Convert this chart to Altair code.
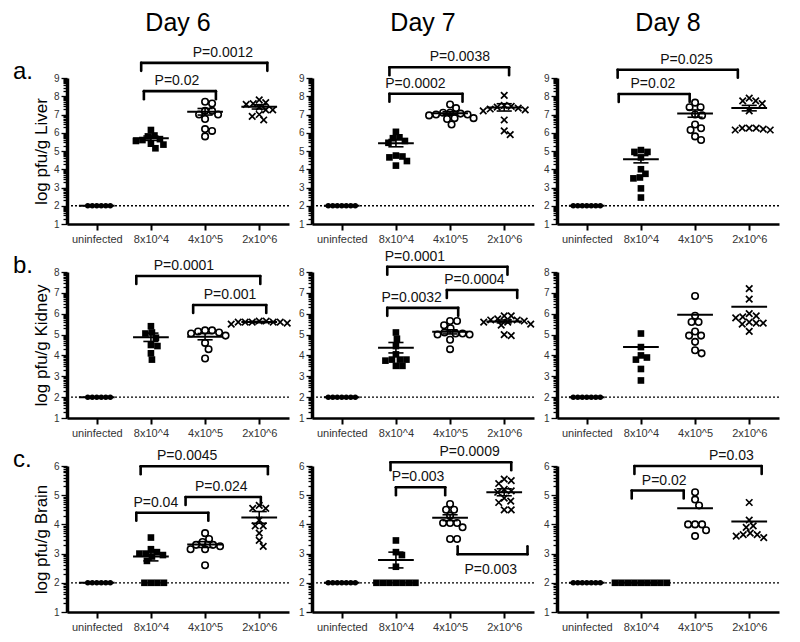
import math
import altair as alt
import pandas as pd

GROUPS = ["uninfected", "8x10^4", "4x10^5", "2x10^6"]
DAYS = ["Day 6", "Day 7", "Day 8"]
ORGANS = ["Liver", "Kidney", "Brain"]
ROW_LETTERS = ["a.", "b.", "c."]
Y_MAX = {"Liver": 9, "Kidney": 8, "Brain": 6}
Y_MIN = 1
LOD = 2

# ---- individual animals (log pfu/g), per group: uninfected, 8x10^4, 4x10^5, 2x10^6
liver_d6 = [[2] * 6,
            [6.15, 5.85, 5.8, 5.65, 5.6, 5.55, 5.4, 5.35, 5.15],
            [7.7, 7.6, 7.2, 7.2, 7.0, 7.0, 6.75, 6.2, 6.1, 5.8],
            [7.8, 7.65, 7.6, 7.55, 7.4, 7.25, 7.25, 7.0, 6.9, 6.7]]
liver_d7 = [[2] * 7,
            [6.05, 5.75, 5.7, 5.55, 5.45, 4.75, 4.7, 4.65, 4.45, 4.2],
            [7.55, 7.35, 7.1, 7.1, 7.05, 7.0, 7.0, 6.95, 6.8, 6.8, 6.75, 6.45],
            [8.05, 7.5, 7.45, 7.4, 7.35, 7.3, 7.25, 7.2, 6.7, 6.1, 5.9]]
liver_d8 = [[2] * 7,
            [5.05, 4.95, 4.95, 4.65, 4.0, 3.75, 3.55, 3.5, 2.95, 2.45],
            [7.65, 7.4, 7.4, 7.0, 6.95, 6.45, 6.25, 6.15, 5.8, 5.6],
            [7.9, 7.75, 7.75, 7.6, 7.2, 6.25, 6.25, 6.25, 6.15, 6.15, 6.2]]
kidney_d6 = [[2] * 6,
             [5.4, 5.1, 5.05, 4.85, 4.5, 4.45, 4.1, 3.8],
             [5.2, 5.2, 5.15, 5.1, 5.05, 4.95, 4.6, 4.3, 3.85],
             [5.65, 5.6, 5.6, 5.6, 5.55, 5.6, 5.65, 5.5, 5.6]]
kidney_d7 = [[2] * 7,
             [5.1, 4.8, 4.45, 4.05, 3.8, 3.8, 3.8, 3.75, 3.5, 3.5],
             [5.65, 5.65, 5.45, 5.3, 5.1, 5.05, 5.05, 5.0, 5.0, 4.75, 4.3],
             [5.9, 5.9, 5.75, 5.7, 5.7, 5.65, 5.6, 5.6, 5.5, 5.45, 4.95, 5.0]]
kidney_d8 = [[2] * 7,
             [5.05, 4.4, 4.0, 3.9, 3.8, 3.35, 2.8],
             [6.85, 5.9, 5.6, 5.6, 5.15, 4.95, 4.95, 4.65, 4.25, 4.1],
             [7.2, 6.7, 6.0, 5.9, 5.85, 5.8, 5.55, 5.6, 5.5, 5.55, 5.15]]
brain_d6 = [[2] * 6,
            [3.55, 3.15, 3.05, 3.0, 3.0, 2.95, 2.9, 2.75, 2.0, 2.0, 2.0, 2.0],
            [3.7, 3.5, 3.4, 3.3, 3.3, 3.25, 3.15, 3.15, 2.6],
            [4.65, 4.55, 4.55, 4.15, 3.95, 3.95, 3.7, 3.45, 3.25]]
brain_d7 = [[2] * 7,
            [3.45, 3.05, 2.95, 2.55, 2.0, 2.0, 2.0, 2.0, 2.0, 2.0, 2.0],
            [4.7, 4.5, 4.5, 4.3, 4.05, 4.05, 4.05, 3.9, 3.5, 3.5],
            [5.55, 5.5, 5.4, 5.2, 5.15, 5.1, 4.9, 4.8, 4.75, 4.5, 4.5]]
brain_d8 = [[2] * 7,
            [2.0] * 9,
            [5.1, 4.85, 4.65, 4.0, 4.0, 4.0, 3.8, 3.6],
            [4.75, 4.15, 3.95, 3.9, 3.7, 3.65, 3.6, 3.55, 3.65]]

POINTS = {
    ("Liver", "Day 6"): liver_d6, ("Liver", "Day 7"): liver_d7, ("Liver", "Day 8"): liver_d8,
    ("Kidney", "Day 6"): kidney_d6, ("Kidney", "Day 7"): kidney_d7, ("Kidney", "Day 8"): kidney_d8,
    ("Brain", "Day 6"): brain_d6, ("Brain", "Day 7"): brain_d7, ("Brain", "Day 8"): brain_d8,
}

# ---- group mean lines and SEM (None = mean line only)
MEANS = {
    ("Liver", "Day 6"): [2, 5.7, 7.15, 7.42], ("Liver", "Day 7"): [2, 5.43, 7.07, 7.39],
    ("Liver", "Day 8"): [2, 4.55, 7.05, 7.35],
    ("Kidney", "Day 6"): [2, 4.87, 4.9, 5.6], ("Kidney", "Day 7"): [2, 4.37, 5.13, 5.63],
    ("Kidney", "Day 8"): [2, 4.4, 5.95, 6.33],
    ("Brain", "Day 6"): [2, 2.9, 3.31, 4.24], ("Brain", "Day 7"): [2, 2.78, 4.23, 5.1],
    ("Brain", "Day 8"): [2, 2.0, 4.55, 4.1],
}
SEMS = {
    ("Liver", "Day 6"): [0, 0.12, 0.18, 0.12], ("Liver", "Day 7"): [0, 0.2, 0.08, 0.2],
    ("Liver", "Day 8"): [0, 0.2, 0.2, 0.15],
    ("Kidney", "Day 6"): [0, 0.2, 0.15, 0.03], ("Kidney", "Day 7"): [0, 0.25, 0.1, 0.07],
    ("Kidney", "Day 8"): None,
    ("Brain", "Day 6"): [0, 0.15, 0.1, 0.2], ("Brain", "Day 7"): [0, 0.27, 0.1, 0.12],
    ("Brain", "Day 8"): None,
}

# ---- significance brackets: (from, to, level, label, label x, direction)
BRACKETS = {
    ("Liver", "Day 6"): [(0.87, 2.2, 8.28, "P=0.02", 1.48, "down"),
                         (0.82, 3.15, 9.83, "P=0.0012", 2.33, "down")],
    ("Liver", "Day 7"): [(0.88, 2.23, 8.14, "P=0.0002", 1.36, "down"),
                         (0.88, 3.09, 9.59, "P=0.0038", 2.18, "down")],
    ("Liver", "Day 8"): [(0.59, 1.9, 8.12, "P=0.02", 1.22, "down"),
                         (0.57, 2.79, 9.45, "P=0.025", 1.84, "down")],
    ("Kidney", "Day 6"): [(0.73, 3.02, 7.81, "P=0.0001", 1.61, "down"),
                          (1.78, 3.13, 6.42, "P=0.001", 2.46, "down")],
    ("Kidney", "Day 7"): [(0.84, 3.06, 8.25, "P=0.0001", 1.35, "down"),
                          (1.94, 3.24, 7.14, "P=0.0004", 2.45, "down"),
                          (0.84, 2.15, 6.28, "P=0.0032", 1.29, "down")],
    ("Kidney", "Day 8"): [],
    ("Brain", "Day 6"): [(0.81, 3.16, 5.99, "P=0.0045", 1.67, "down"),
                         (0.73, 2.06, 4.4, "P=0.04", 1.09, "down"),
                         (1.64, 3.03, 4.94, "P=0.024", 2.3, "down")],
    ("Brain", "Day 7"): [(0.9, 3.13, 6.13, "P=0.0009", 2.36, "down"),
                         (1.0, 1.91, 5.27, "P=0.003", 1.41, "down"),
                         (2.14, 3.43, 2.98, "P=0.003", 2.75, "up")],
    ("Brain", "Day 8"): [(0.83, 1.79, 5.16, "P=0.02", 1.43, "down"),
                         (0.88, 3.23, 6.0, "P=0.03", 2.67, "down")],
}

W, H = 222, 146
X_DOM = [-0.55, 3.55]
FONT = "Liberation Sans"
MAJOR_TEST = "abs(datum.value - round(datum.value)) < 0.001"


def tick_values(lo, hi):
    vals = []
    for k in range(lo, hi):
        for m in range(1, 10):
            vals.append(round(k + math.log10(m), 4))
    vals.append(hi)
    return vals


def swarm_offsets(vals, py_unit, px_unit, diam):
    order = sorted(range(len(vals)), key=lambda i: -vals[i])
    cands = [0.0]
    for k in range(1, 200):
        cands += [k * 0.5, -k * 0.5]
    placed = []
    offs = [0.0] * len(vals)
    for i in order:
        ypx = vals[i] * py_unit
        for dx in cands:
            if all((dx - p) ** 2 + (ypx - q) ** 2 >= diam ** 2 for p, q in placed):
                break
        placed.append((dx, ypx))
        offs[i] = dx / px_unit
    return offs


label_js = "[" + ",".join("'%s'" % g for g in GROUPS) + "][round(datum.value)]"
SWARM_DIAM = [4.5, 6.3, 7.0, 7.0]


def build_panel(r, c):
    organ, day = ORGANS[r], DAYS[c]
    key = (organ, day)
    hi = Y_MAX[organ]
    py_unit = H / (hi - Y_MIN)
    px_unit = W / (X_DOM[1] - X_DOM[0])

    xs = alt.Scale(domain=X_DOM, nice=False, zero=False)
    ys = alt.Scale(domain=[Y_MIN, hi], nice=False, zero=False)
    xaxis = alt.Axis(values=[0, 1, 2, 3], labelExpr=label_js, title=None, grid=False,
                     domainWidth=2.5, domainColor="black", tickColor="black",
                     tickWidth=2, tickSize=6, labelFontSize=11, labelColor="#333",
                     labelPadding=3, labelFont=FONT)
    yaxis = alt.Axis(values=tick_values(Y_MIN, hi),
                     labelExpr=MAJOR_TEST + " ? format(datum.value, 'd') : ''",
                     tickSize={"condition": {"test": MAJOR_TEST, "value": 6}, "value": 4},
                     tickWidth=1.3, tickColor="black", domainWidth=3.5, domainColor="black",
                     labelFontSize=10, labelColor="#333", labelPadding=2,
                     labelOverlap=False, grid=False, labelFont=FONT,
                     title=("log pfu/g " + organ) if c == 0 else None,
                     titleFontSize=17, titleFontWeight="normal", titlePadding=3,
                     titleColor="black", titleFont=FONT)

    def X(f="x"):
        return alt.X(f, type="quantitative", scale=xs, axis=xaxis)

    def Y(f="y"):
        return alt.Y(f, type="quantitative", scale=ys, axis=yaxis)

    layers = []
    # detection-limit dotted line
    lod = pd.DataFrame({"x": [X_DOM[0]], "x2": [X_DOM[1]], "y": [LOD]})
    layers.append(alt.Chart(lod).mark_rule(strokeDash=[2, 2], strokeWidth=1.3, color="black")
                  .encode(x=X(), x2="x2", y=Y()))

    # points
    styles = [
        dict(shape="circle", filled=True, size=30, color="black"),
        dict(shape="square", filled=True, size=44, color="black"),
        dict(shape="circle", filled=False, size=42, color="black", strokeWidth=1.6),
        dict(shape="M-1,-1L1,1M-1,1L1,-1", filled=False, size=42, color="black", strokeWidth=1.7),
    ]
    for gi, vals in enumerate(POINTS[key]):
        offs = swarm_offsets(vals, py_unit, px_unit, SWARM_DIAM[gi])
        df = pd.DataFrame({"x": [gi + o for o in offs], "y": vals})
        layers.append(alt.Chart(df).mark_point(opacity=1, **styles[gi]).encode(x=X(), y=Y()))

    # mean lines
    means = MEANS[key]
    mdf = pd.DataFrame({"x": [g - 0.33 for g in range(4)], "x2": [g + 0.33 for g in range(4)],
                        "y": means})
    layers.append(alt.Chart(mdf).mark_rule(strokeWidth=2, color="black")
                  .encode(x=X(), x2="x2", y=Y()))

    sems = SEMS[key]
    if sems is not None:
        idx = [g for g in range(4) if sems[g] > 0]
        vdf = pd.DataFrame({"x": idx, "y": [means[g] - sems[g] for g in idx],
                            "y2": [means[g] + sems[g] for g in idx]})
        layers.append(alt.Chart(vdf).mark_rule(strokeWidth=1.6, color="black")
                      .encode(x=X(), y=Y(), y2="y2"))
        cx, cx2, cy = [], [], []
        for g in idx:
            for s in (-1, 1):
                cx.append(g - 0.14)
                cx2.append(g + 0.14)
                cy.append(means[g] + s * sems[g])
        cdf = pd.DataFrame({"x": cx, "x2": cx2, "y": cy})
        layers.append(alt.Chart(cdf).mark_rule(strokeWidth=1.6, color="black")
                      .encode(x=X(), x2="x2", y=Y()))

    # brackets
    for direction, off, base, dy in (("down", 8, "alphabetic", -6), ("up", -8, "top", 9)):
        br = [b for b in BRACKETS[key] if b[5] == direction]
        if not br:
            continue
        hdf = pd.DataFrame({"x": [b[0] for b in br], "x2": [b[1] for b in br],
                            "y": [b[2] for b in br]})
        layers.append(alt.Chart(hdf).mark_rule(strokeWidth=2.6, color="black", strokeCap="round")
                      .encode(x=X(), x2="x2", y=Y()))
        edf = pd.DataFrame({"x": [b[0] for b in br] + [b[1] for b in br],
                            "y": [b[2] for b in br] * 2})
        layers.append(alt.Chart(edf).mark_rule(strokeWidth=2.6, color="black", y2Offset=off,
                                               strokeCap="round")
                      .encode(x=X(), y=Y(), y2="y"))
        tdf = pd.DataFrame({"x": [b[4] for b in br], "y": [b[2] for b in br],
                            "t": [b[3] for b in br]})
        layers.append(alt.Chart(tdf).mark_text(fontSize=14, font=FONT, color="#111",
                                               baseline=base, dy=dy, align="center")
                      .encode(x=X(), y=Y(), text="t:N"))

    if c == 0:
        ldf = pd.DataFrame({"t": [ROW_LETTERS[r]]})
        layers.append(alt.Chart(ldf).mark_text(fontSize=24, font=FONT, color="black",
                                               align="left", baseline="alphabetic")
                      .encode(x=alt.value(-54), y=alt.value(1), text="t:N"))

    if r == 0:
        tdf = pd.DataFrame({"t": [day]})
        layers.append(alt.Chart(tdf).mark_text(fontSize=25, font=FONT, color="black",
                                               align="center", baseline="alphabetic")
                      .encode(x=alt.value(W / 2), y=alt.value(-47), text="t:N"))

    return alt.layer(*layers).properties(width=W, height=H)


panels = [build_panel(r, c) for r in range(3) for c in range(3)]
chart = alt.concat(*panels, columns=3, spacing={"row": 48, "column": 23}, bounds="flush").properties(
    padding={"left": 5, "top": 3, "right": 5, "bottom": 5}
).configure(font=FONT).configure_view(strokeWidth=0)

chart.save("out.html", embed_options={"renderer": "svg", "actions": False})
